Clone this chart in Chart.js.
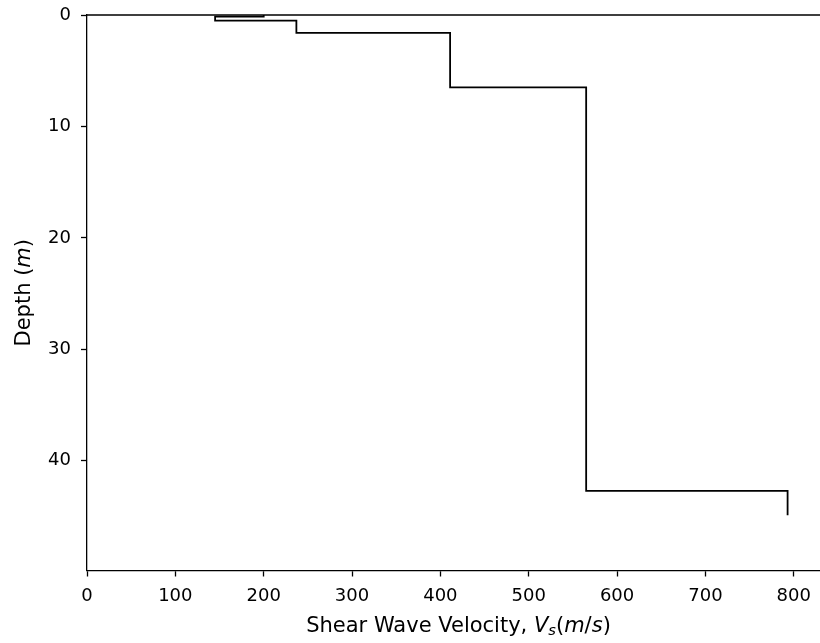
<!DOCTYPE html>
<html>
<head>
<meta charset="utf-8">
<script src="https://cdn.jsdelivr.net/npm/chart.js@4/dist/chart.umd.min.js"></script>
<style>
  html, body { margin: 0; padding: 0; background: #fff; overflow: hidden; }
  #wrap { width: 820px; height: 643px; overflow: hidden; }
  canvas { display: block; }
</style>
</head>
<body>
<div id="wrap"><canvas id="vs" width="832" height="643"></canvas></div>
<script>
// Layered shear-wave velocity profile: one constant velocity per layer
const layerTop      = [0, 0.14, 0.5, 1.6, 6.5, 42.7];   // m
const layerBottom   = [0.14, 0.5, 1.6, 6.5, 42.7, 44.9]; // m
const shearVelocity = [200, 145, 237, 411, 565, 793];   // m/s

const xTicks = [0, 100, 200, 300, 400, 500, 600, 700, 800];
const yTicks = [0, 10, 20, 30, 40];

// Stair-step outline: each layer contributes its top and bottom at its velocity
const profile = [];
shearVelocity.forEach((v, i) => {
  profile.push({ x: v, y: layerTop[i] });
  profile.push({ x: v, y: layerBottom[i] });
});

const FONT = "'DejaVu Sans', sans-serif";
const FS = 18;       // tick labels
const LFS = 21;      // axis titles

// Draws a run of text segments (normal / italic / subscript) on one baseline
function fontFor(p) {
  return (p.italic ? 'oblique ' : '') + (p.sub ? LFS * 0.7 : LFS) + 'px ' + FONT;
}
function richWidth(ctx, parts) {
  let w = 0;
  parts.forEach(p => { ctx.font = fontFor(p); w += ctx.measureText(p.t).width; });
  return w;
}
function drawRich(ctx, parts, x, y) {
  let cx = x - richWidth(ctx, parts) / 2;
  parts.forEach(p => {
    ctx.font = fontFor(p);
    ctx.fillText(p.t, cx, y + (p.sub ? LFS * 0.15 : 0));
    cx += ctx.measureText(p.t).width;
  });
}

const frameAndTitles = {
  id: 'frameAndTitles',
  afterDraw(chart) {
    const { ctx, chartArea: a } = chart;
    ctx.save();
    // top and right spines
    ctx.strokeStyle = '#000';
    ctx.lineWidth = 1.3;
    ctx.beginPath();
    ctx.moveTo(a.left, a.top);
    ctx.lineTo(a.right, a.top);
    ctx.lineTo(a.right, a.bottom);
    ctx.stroke();

    ctx.fillStyle = '#000';
    ctx.textBaseline = 'alphabetic';
    ctx.textAlign = 'left';
    // x-axis title
    drawRich(ctx, [
      { t: 'Shear Wave Velocity, ' },
      { t: 'V', italic: true },
      { t: 's', italic: true, sub: true },
      { t: '(' },
      { t: 'm', italic: true },
      { t: '/' },
      { t: 's', italic: true },
      { t: ')' }
    ], (a.left + a.right) / 2, 632);
    // y-axis title (rotated)
    ctx.translate(29.5, (a.top + a.bottom) / 2);
    ctx.rotate(-Math.PI / 2);
    drawRich(ctx, [
      { t: 'Depth (' },
      { t: 'm', italic: true },
      { t: ')' }
    ], 0, 0);
    ctx.restore();
  }
};

new Chart(document.getElementById('vs'), {
  type: 'scatter',
  data: {
    datasets: [{
      data: profile,
      showLine: true,
      borderColor: '#000',
      borderWidth: 1.8,
      pointRadius: 0,
      pointHoverRadius: 0,
      tension: 0,
      fill: false
    }]
  },
  options: {
    responsive: false,
    animation: false,
    events: [],
    layout: { padding: { top: 15, right: 2, left: 0, bottom: 0 } },
    plugins: { legend: { display: false }, tooltip: { enabled: false } },
    scales: {
      x: {
        type: 'linear',
        min: 0,
        max: 841,
        afterBuildTicks: s => { s.ticks = xTicks.map(v => ({ value: v })); },
        afterFit: s => { s.height = 72.5; s.paddingLeft = 0; s.paddingRight = 0; },
        grid: { drawOnChartArea: false, drawTicks: true, tickLength: 6, tickColor: '#000', tickWidth: 1.3 },
        border: { display: true, color: '#000', width: 1.3 },
        ticks: { color: '#000', padding: 9, maxRotation: 0, autoSkip: false, font: { family: FONT, size: FS } }
      },
      y: {
        type: 'linear',
        reverse: true,
        min: 0,
        max: 49.85,
        afterBuildTicks: s => { s.ticks = yTicks.map(v => ({ value: v })); },
        afterFit: s => { s.width = 87; s.paddingTop = 0; s.paddingBottom = 0; },
        grid: { drawOnChartArea: false, drawTicks: true, tickLength: 6, tickColor: '#000', tickWidth: 1.3 },
        border: { display: true, color: '#000', width: 1.3 },
        ticks: { color: '#000', padding: 10, autoSkip: false, font: { family: FONT, size: FS } }
      }
    }
  },
  plugins: [frameAndTitles]
});
</script>
</body>
</html>
